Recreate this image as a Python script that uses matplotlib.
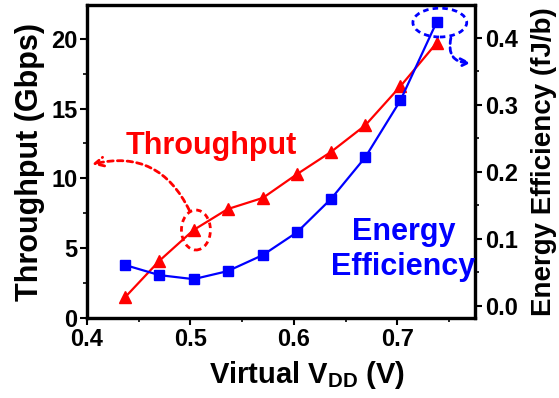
import matplotlib
matplotlib.use("Agg")
import matplotlib.pyplot as plt
from matplotlib.patches import Ellipse
from matplotlib.ticker import MultipleLocator

plt.rcParams['font.family'] = ['Liberation Sans', 'DejaVu Sans']
plt.rcParams['font.weight'] = 'bold'
plt.rcParams['mathtext.default'] = 'regular'

# data
vdd = [0.437, 0.470, 0.503, 0.536, 0.570, 0.603, 0.636, 0.669, 0.703, 0.738]
throughput = [1.5, 4.1, 6.3, 7.8, 8.6, 10.3, 11.9, 13.8, 16.6, 19.7]
energy = [0.061, 0.046, 0.040, 0.052, 0.076, 0.110, 0.160, 0.222, 0.307, 0.424]

red = '#ff0000'
blue = '#0000ff'

fig = plt.figure(figsize=(5.59, 3.98), dpi=100)
ax = fig.add_axes([0.1556, 0.201, 0.6941, 0.786])
ax2 = ax.twinx()

ax.plot(vdd, throughput, color=red, marker='^', markersize=8.5, linewidth=1.6, zorder=3)
ax2.plot(vdd, energy, color=blue, marker='s', markersize=6.5, linewidth=1.6, zorder=3)

ax.set_xlim(0.4, 0.775)
ax.set_ylim(0, 22.4)
ax2.set_ylim(-0.018, 0.449)

ax.xaxis.set_major_locator(MultipleLocator(0.1))
ax.xaxis.set_minor_locator(MultipleLocator(0.05))
ax.yaxis.set_major_locator(MultipleLocator(5))
ax.yaxis.set_minor_locator(MultipleLocator(2.5))
ax2.yaxis.set_major_locator(MultipleLocator(0.1))
ax2.yaxis.set_minor_locator(MultipleLocator(0.05))
ax.set_xticks([0.4, 0.5, 0.6, 0.7])
ax.set_xticklabels(['0.4', '0.5', '0.6', '0.7'])
ax2.set_yticks([0.0, 0.1, 0.2, 0.3, 0.4])
ax2.set_yticklabels(['0.0', '0.1', '0.2', '0.3', '0.4'])

for a in (ax, ax2):
    for s in a.spines.values():
        s.set_linewidth(2.3)
    a.tick_params(which='major', direction='out', length=5, width=1.5, labelsize=17, pad=2)
    a.tick_params(which='minor', direction='out', length=3, width=1.2)

ax.set_xlabel('Virtual V$_{DD}$ (V)', fontsize=21, fontweight='bold')
ax.xaxis.set_label_coords(0.567, -0.13)
ax.set_ylabel('Throughput (Gbps)', fontsize=22, fontweight='bold', labelpad=4)
ax2.set_ylabel('Energy Efficiency (fJ/b)', fontsize=20, fontweight='bold', rotation=90)
ax2.yaxis.set_label_coords(1.145, 0.5)

ax.text(0.5198, 12.3, 'Throughput', color=red, fontsize=22, fontweight='bold', ha='center', va='center')
ax2.text(0.706, 0.084, 'Energy\nEfficiency', color=blue, fontsize=22, fontweight='bold',
         ha='center', va='center', multialignment='center', linespacing=1.2)

# red dashed annotation
ax.add_patch(Ellipse((0.5053, 6.3), 0.028, 2.86, fill=False, edgecolor=red,
                     linestyle=(0, (2, 1.5)), linewidth=2, zorder=4))
ax.annotate('', xy=(0.4048, 11.0), xytext=(0.499, 7.7),
            arrowprops=dict(arrowstyle='->', color=red, linestyle=(0, (2, 1.5)), linewidth=2,
                            mutation_scale=16, connectionstyle='arc3,rad=0.4',
                            shrinkA=0, shrinkB=0))

# blue dashed annotation
ax2.add_patch(Ellipse((0.741, 0.423), 0.052, 0.043, fill=False, edgecolor=blue,
                      linestyle=(0, (2, 1.5)), linewidth=2, zorder=4, clip_on=False))
ax2.annotate('', xy=(0.771, 0.363), xytext=(0.7517, 0.400),
             arrowprops=dict(arrowstyle='->', color=blue, linestyle=(0, (2, 1.5)), linewidth=2,
                             mutation_scale=14, connectionstyle='arc3,rad=0.6',
                             shrinkA=0, shrinkB=0))

fig.savefig('out.png', dpi=100)
